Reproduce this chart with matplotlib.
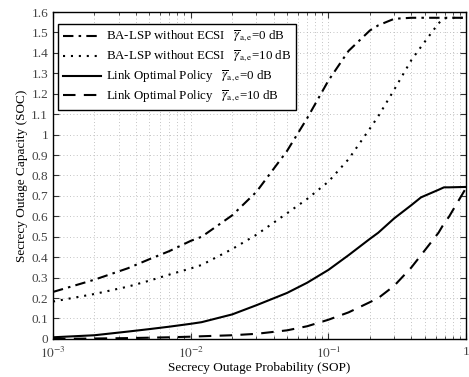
import matplotlib.pyplot as plt
import matplotlib.ticker as mticker
import numpy as np

plt.rcParams['font.family'] = ['Liberation Serif', 'DejaVu Serif']
plt.rcParams['mathtext.fontset'] = 'stix'

# SOP values and the corresponding SOC for each policy
sop = [0.001, 0.002, 0.0035, 0.005, 0.007, 0.01, 0.012, 0.02, 0.03, 0.05,
       0.07, 0.1, 0.14, 0.2, 0.23, 0.3, 0.4, 0.47, 0.63, 0.69, 0.75, 1.0]

ba_lsp_0db = [0.23, 0.29, 0.346, 0.39, 0.43, 0.48, 0.50, 0.605, 0.72, 0.92,
              1.08, 1.265, 1.41, 1.51, 1.535, 1.567, 1.572, 1.572, 1.572, 1.572,
              1.572, 1.572]
ba_lsp_10db = [0.183, 0.22, 0.256, 0.285, 0.315, 0.345, 0.362, 0.44, 0.51, 0.615,
               0.685, 0.77, 0.88, 1.03, 1.09, 1.22, 1.365, 1.43, 1.545, 1.569,
               1.572, 1.572]
lop_0db = [0.008, 0.018, 0.036, 0.048, 0.06, 0.074, 0.082, 0.12, 0.165, 0.225,
           0.275, 0.338, 0.41, 0.49, 0.52, 0.59, 0.655, 0.693, 0.73, 0.742,
           0.742, 0.744]
lop_10db = [0.0, 0.002, 0.004, 0.006, 0.008, 0.011, 0.013, 0.018, 0.025, 0.042,
            0.062, 0.094, 0.13, 0.18, 0.20, 0.26, 0.35, 0.41, 0.52, 0.565,
            0.598, 0.74]

labels = ['BA-LSP without ECSI', 'BA-LSP without ECSI',
          'Link Optimal Policy', 'Link Optimal Policy']
snr_tags = [r'$\overline{\gamma}_{\mathrm{a,e}}$=0 dB',
            r'$\overline{\gamma}_{\mathrm{a,e}}$=10 dB',
            r'$\overline{\gamma}_{\mathrm{a,e}}$=0 dB',
            r'$\overline{\gamma}_{\mathrm{a,e}}$=10 dB']

fig = plt.figure(figsize=(4.69, 3.77), dpi=100)
ax = fig.add_axes([0.113, 0.101, 0.881, 0.867])

styles = [dict(ls=(0, (5, 2.5, 1.2, 2.5))),
          dict(ls=(0, (1, 2.8))),
          dict(ls='-'),
          dict(ls=(0, (6, 4)))]
series = [ba_lsp_0db, ba_lsp_10db, lop_0db, lop_10db]
for y, st, lab, tag in zip(series, styles, labels, snr_tags):
    ax.plot(sop, y, color='black', lw=1.5, label=lab + '   ' + tag, **st)

ax.set_xscale('log')
ax.set_xlim(1e-3, 1)
ax.set_ylim(0, 1.6)
ax.set_yticks(np.arange(0, 1.61, 0.1))
ax.yaxis.set_major_formatter(mticker.FuncFormatter(lambda v, p: '%g' % round(v, 1)))
ax.xaxis.set_major_formatter(mticker.FuncFormatter(
    lambda v, p: '1' if abs(v - 1) < 1e-9 else r'$10^{%d}$' % round(np.log10(v))))

ax.grid(True, which='both', axis='x', color='#b0b0b0', ls=(0, (1, 3)), lw=0.6)
ax.grid(True, which='major', axis='y', color='#b0b0b0', ls=(0, (1, 3)), lw=0.6)
ax.tick_params(which='both', direction='in', top=True, right=True,
               labelsize=9.5, colors='#333333', labelcolor='#444444')
ax.tick_params(which='major', length=4)
ax.tick_params(which='minor', length=2)
ax.tick_params(axis='x', pad=5)
for sp in ax.spines.values():
    sp.set_linewidth(1.0)

ax.set_xlabel('Secrecy Outage Probability (SOP)', fontsize=9.5, labelpad=1)
ax.set_ylabel('Secrecy Outage Capacity (SOC)', fontsize=9.5, labelpad=2)

leg = ax.legend(loc='upper left', bbox_to_anchor=(0.012, 0.963), fontsize=9.3,
                fancybox=False, edgecolor='black', framealpha=1,
                handlelength=2.9, handletextpad=0.4, borderpad=0.4,
                labelspacing=0.3, borderaxespad=0)
leg.get_frame().set_linewidth(1.0)

fig.savefig('out.png', dpi=100)
